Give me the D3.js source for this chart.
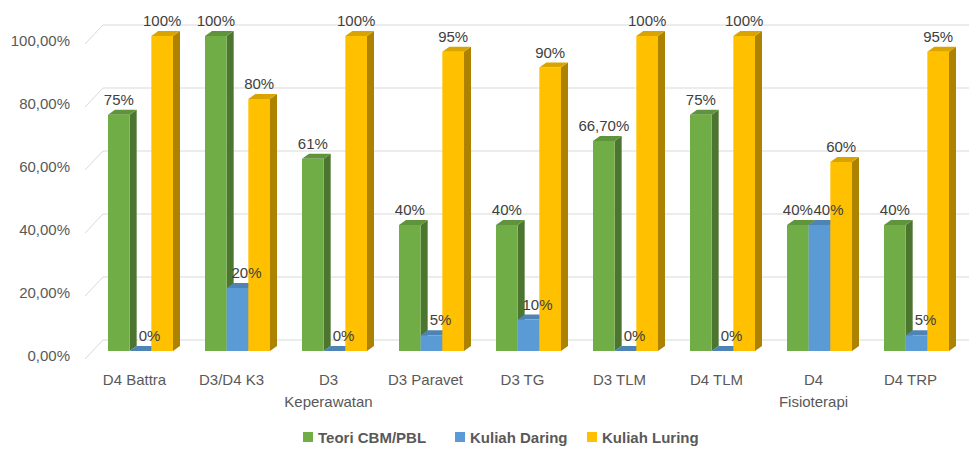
<!DOCTYPE html>
<html><head><meta charset="utf-8">
<script src="https://cdn.jsdelivr.net/npm/d3@7"></script>
<style>body{margin:0;background:#fff}svg{display:block}</style>
</head><body>
<svg id="c" width="969" height="452"></svg>
<script>
const categories = ["D4 Battra","D3/D4 K3","D3\nKeperawatan","D3 Paravet","D3 TG","D3 TLM","D4 TLM","D4\nFisioterapi","D4 TRP"];
const seriesNames = ["Teori CBM/PBL","Kuliah Daring","Kuliah Luring"];
const teori = [75,100,61,40,40,66.7,75,40,40];
const daring = [0,20,0,5,10,0,0,40,5];
const luring = [100,80,100,95,90,100,100,60,95];
const yTicks = [0,20,40,60,80,100];
const colors = ["#70AD47","#5B9BD5","#FFC000"];
const seriesValues = [teori, daring, luring];
const labelShift = [0, 9, 0];

const svg = d3.select("#c");
const font = "'Liberation Sans', Arial, sans-serif";
const DX = 7, DY = 5;          // bar depth
const GX = 18, GY = 19;        // floor depth (front axis -> back wall)
const y = d3.scaleLinear().domain([0,100]).range([351,36]);
const x = d3.scaleBand().domain(categories).range([92,965]).paddingInner(0.33).paddingOuter(0.165);
const xs = d3.scaleBand().domain(seriesNames).range([0, x.bandwidth()]);

// gridlines (back wall) + diagonal floor connectors
const grid = svg.append("g");
yTicks.forEach(t => {
  const yb = y(t) - 11;
  grid.append("line").attr("x1",85+GX).attr("x2",969).attr("y1",yb).attr("y2",yb)
    .attr("stroke","#d9d9d9").attr("stroke-width",1);
  grid.append("line").attr("x1",85).attr("y1",yb+GY).attr("x2",85+GX).attr("y2",yb)
    .attr("stroke","#d9d9d9").attr("stroke-width",1);
  svg.append("text").attr("x",70).attr("y",y(t)+10).attr("text-anchor","end")
    .attr("font-family",font).attr("font-size",15).attr("fill","#595959")
    .text(d3.format(".2f")(t).replace(".",",")+"%");
});

const fmt = v => Number.isInteger(v) ? v+"%" : d3.format(".2f")(v).replace(".",",")+"%";

const bars = svg.append("g");
const labels = svg.append("g");
categories.forEach((c,i) => {
  seriesNames.forEach((s,k) => {
    const v = seriesValues[k][i];
    const x0 = x(c) + xs(s), w = xs.bandwidth();
    const yt = y(v), yb = y(0);
    const col = d3.color(colors[k]);
    // side face
    bars.append("path").attr("d",`M${x0+w},${yt}L${x0+w+DX},${yt-DY}L${x0+w+DX},${yb-DY}L${x0+w},${yb}Z`)
      .attr("fill", col.darker(1.1));
    // top face
    bars.append("path").attr("d",`M${x0},${yt}L${x0+DX},${yt-DY}L${x0+w+DX},${yt-DY}L${x0+w},${yt}Z`)
      .attr("fill", col.darker(0.45));
    // front face
    bars.append("rect").attr("x",x0).attr("y",yt).attr("width",w).attr("height",yb-yt)
      .attr("fill", colors[k]);
    labels.append("text").attr("x",x0+w/2+labelShift[k]).attr("y",yt-DY-5).attr("text-anchor","middle")
      .attr("font-family",font).attr("font-size",15).attr("fill","#404040")
      .text(fmt(v));
  });
  const cx = x(c) + x.bandwidth()/2 - 6;
  const t = svg.append("text").attr("text-anchor","middle").attr("font-family",font)
    .attr("font-size",15).attr("fill","#595959");
  c.split("\n").forEach((line,j) => {
    t.append("tspan").attr("x",cx).attr("y",385 + j*22).text(line);
  });
});

// legend
const legX = [303,455,587];
seriesNames.forEach((s,k) => {
  svg.append("rect").attr("x",legX[k]).attr("y",432).attr("width",10).attr("height",10).attr("fill",colors[k]);
  svg.append("text").attr("x",legX[k]+15).attr("y",442.5).attr("font-family",font)
    .attr("font-size",15).attr("font-weight","bold").attr("fill","#595959").text(s);
});
</script>
</body></html>
